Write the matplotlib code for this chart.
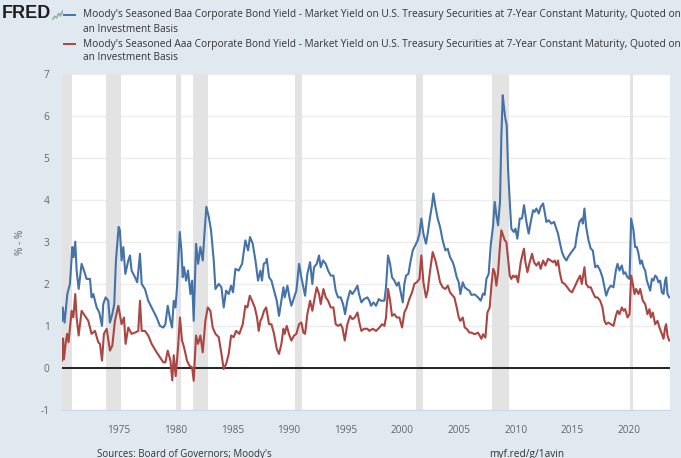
import matplotlib
matplotlib.use("Agg")
import matplotlib.pyplot as plt
from matplotlib.lines import Line2D

plt.rcParams['font.family'] = ['Open Sans', 'DejaVu Sans']

# ---------------- data ----------------
baa_years = [
    1969.97, 1970.03, 1970.2, 1970.44, 1970.67, 1970.88, 1970.99, 1971.14, 1971.26, 1971.44,
    1971.7, 1971.91, 1972.14, 1972.44, 1972.58, 1972.73, 1973.03, 1973.26, 1973.5, 1973.61,
    1973.82, 1974.05, 1974.2, 1974.41, 1974.58, 1974.73, 1974.97, 1975.08, 1975.23, 1975.38,
    1975.56, 1975.82, 1975.97, 1976.11, 1976.41, 1976.61, 1976.85, 1977.0, 1977.29, 1977.58,
    1977.88, 1978.32, 1978.61, 1978.91,
    1979.09, 1979.3, 1979.54, 1979.68, 1979.83, 1979.98, 1980.12, 1980.36, 1980.51, 1980.62,
    1980.74, 1980.92, 1981.09, 1981.3, 1981.45, 1981.59, 1981.8, 1981.98, 1982.18, 1982.39,
    1982.54, 1982.71, 1982.92, 1983.12, 1983.36, 1983.51, 1983.8, 1984.04, 1984.24, 1984.45,
    1984.68, 1984.89, 1985.06, 1985.27, 1985.56, 1985.86, 1986.15, 1986.39, 1986.56, 1986.8,
    1987.04, 1987.27, 1987.48, 1987.62, 1987.77, 1987.98,
    1988.04, 1988.24, 1988.45, 1988.68, 1988.92, 1989.12, 1989.33, 1989.51, 1989.62, 1989.86,
    1990.04, 1990.21, 1990.45, 1990.65, 1990.89, 1991.09, 1991.27, 1991.42, 1991.62, 1991.86,
    1992.06, 1992.21, 1992.45, 1992.65, 1992.8, 1993.01, 1993.24, 1993.45, 1993.68, 1993.92,
    1994.12, 1994.33, 1994.56, 1994.77, 1994.95, 1995.15, 1995.39, 1995.59, 1995.8, 1996.04,
    1996.18, 1996.39, 1996.62, 1996.92,
    1997.09, 1997.24, 1997.45, 1997.68, 1997.92, 1998.12, 1998.42, 1998.56, 1998.74, 1998.92,
    1999.09, 1999.3, 1999.51, 1999.68, 1999.89, 2000.04, 2000.18, 2000.33, 2000.54, 2000.71,
    2000.92, 2001.06, 2001.21, 2001.36, 2001.51, 2001.68, 2001.86, 2002.09, 2002.24, 2002.45,
    2002.62, 2002.74, 2002.92, 2003.12, 2003.33, 2003.56, 2003.8, 2004.01, 2004.21, 2004.45,
    2004.59, 2004.8, 2004.98, 2005.12, 2005.33, 2005.51, 2005.68, 2005.92,
    2006.09, 2006.39, 2006.68, 2006.92, 2007.12, 2007.27, 2007.42, 2007.62, 2007.8, 2008.01,
    2008.15, 2008.3, 2008.45, 2008.62, 2008.74, 2008.86, 2008.98, 2009.09, 2009.21, 2009.33,
    2009.48, 2009.62, 2009.83, 2009.98, 2010.15, 2010.36, 2010.56, 2010.74, 2010.95, 2011.15,
    2011.33, 2011.54, 2011.68, 2011.83, 2012.04, 2012.21, 2012.42, 2012.56, 2012.71, 2012.92,
    2013.15, 2013.39, 2013.59, 2013.74, 2013.89, 2014.09, 2014.27, 2014.48, 2014.62, 2014.92,
    2015.25, 2015.4, 2015.63, 2015.84, 2015.93, 2016.07, 2016.22, 2016.43, 2016.63, 2016.81,
    2017.02, 2017.22, 2017.46, 2017.66, 2017.81, 2017.99, 2018.19, 2018.4, 2018.63, 2018.84,
    2018.99, 2019.16, 2019.37, 2019.52, 2019.66, 2019.87, 2020.05, 2020.19, 2020.4, 2020.54,
    2020.69, 2020.84, 2020.99, 2021.13, 2021.28, 2021.43, 2021.58, 2021.72, 2021.87, 2022.02,
    2022.16, 2022.31, 2022.46, 2022.6, 2022.75, 2022.9, 2023.05, 2023.19, 2023.28, 2023.4,
    2023.55,
]
baa_values = [
    1.12, 1.44, 1.08, 1.76, 2.0, 2.88, 2.64, 3.01, 2.32, 1.88,
    2.48, 2.32, 2.12, 2.12, 1.68, 1.76, 1.44, 1.32, 1.0, 1.52,
    1.68, 1.60, 1.08, 1.28, 1.52, 2.56, 3.36, 3.28, 2.56, 2.88,
    2.24, 2.56, 2.68, 2.32, 2.16, 2.04, 2.72, 2.0, 1.88, 1.60,
    1.44, 1.2, 1.0, 0.96,
    1.04, 1.48, 1.12, 0.96, 1.6, 1.44, 1.92, 3.24, 2.8, 2.16,
    2.4, 2.08, 2.32, 1.76, 2.08, 1.12, 2.96, 2.48, 2.88, 2.56,
    3.2, 3.84, 3.6, 3.28, 2.56, 1.88, 2.0, 1.92, 1.44, 1.84,
    1.76, 1.96, 1.8, 2.36, 2.32, 2.48, 3.04, 2.8, 3.12, 2.96,
    2.56, 2.08, 2.32, 2.08, 2.48, 2.52,
    2.6, 2.16, 2.08, 1.84, 1.6, 1.24, 1.6, 1.92, 1.68, 1.96,
    1.68, 1.48, 1.68, 1.84, 2.48, 2.16, 1.92, 1.72, 2.24, 2.52,
    2.0, 2.4, 2.48, 2.68, 2.4, 2.56, 2.48, 2.32, 2.2, 2.2,
    1.84, 1.68, 1.68, 1.52, 1.28, 1.6, 1.84, 1.76, 1.84, 1.96,
    1.76, 1.56, 1.64, 1.68,
    1.6, 1.48, 1.56, 1.48, 1.64, 1.6, 1.6, 1.92, 2.68, 2.48,
    2.16, 2.08, 1.96, 2.04, 1.76, 1.56, 2.0, 2.2, 2.24, 2.52,
    2.8, 2.88, 2.96, 3.04, 3.2, 3.56, 3.2, 2.96, 3.2, 3.6,
    3.88, 4.16, 3.84, 3.56, 3.36, 3.04, 2.8, 2.84, 2.64, 2.52,
    2.4, 2.16, 2.04, 1.76, 2.04, 1.92, 1.88, 1.84,
    1.74, 1.75, 1.68, 1.6, 1.77, 1.74, 2.12, 2.24, 2.92, 3.4,
    3.96, 3.64, 3.4, 3.96, 5.55, 6.5, 6.19, 5.95, 5.79, 4.75,
    3.96, 3.32, 3.24, 3.32, 3.08, 3.56, 3.56, 3.88, 3.48, 3.2,
    3.48, 3.76, 3.72, 3.8, 3.68, 3.84, 3.92, 3.72, 3.48, 3.52,
    3.44, 3.48, 3.32, 3.2, 3.0, 2.76, 2.64, 2.56, 2.64, 2.76,
    2.88, 3.16, 3.48, 3.56, 3.44, 3.8, 3.36, 3.04, 2.84, 2.8,
    2.4, 2.44, 2.32, 2.16, 1.96, 1.72, 1.88, 1.96, 1.92, 2.32,
    2.48, 2.32, 2.44, 2.24, 2.28, 2.16, 2.12, 3.56, 3.28, 2.88,
    2.88, 2.72, 2.48, 2.56, 2.4, 2.32, 2.08, 1.96, 1.84, 2.12,
    2.08, 2.2, 2.16, 2.04, 2.08, 1.8, 1.76, 2.08, 2.16, 1.76,
    1.68,
]

aaa_years = [
    1969.97, 1970.06, 1970.14, 1970.3, 1970.42, 1970.55, 1970.82, 1970.97, 1971.14, 1971.26,
    1971.44, 1971.7, 1971.99, 1972.29, 1972.58, 1972.88, 1973.17, 1973.32, 1973.5, 1973.67,
    1973.91, 1974.2, 1974.41, 1974.64, 1974.94, 1975.23, 1975.44, 1975.58, 1975.82, 1976.11,
    1976.41, 1976.7, 1976.85, 1977.0, 1977.29, 1977.58, 1977.88, 1978.32, 1978.61, 1978.91,
    1979.09, 1979.3, 1979.54, 1979.7, 1979.83, 1980.0, 1980.21, 1980.38, 1980.56, 1980.74,
    1981.0, 1981.21, 1981.45, 1981.59, 1981.8, 1981.98, 1982.18, 1982.39, 1982.62, 1982.83,
    1983.06, 1983.27, 1983.51, 1983.8, 1984.04, 1984.24, 1984.45, 1984.68, 1984.89, 1985.12,
    1985.33, 1985.62, 1985.92, 1986.15, 1986.33, 1986.54, 1986.74, 1986.98, 1987.18, 1987.33,
    1987.48, 1987.62, 1987.8, 1987.98,
    1988.04, 1988.24, 1988.45, 1988.68, 1988.92, 1989.12, 1989.33, 1989.51, 1989.62, 1989.8,
    1990.04, 1990.21, 1990.45, 1990.65, 1990.89, 1991.09, 1991.27, 1991.42, 1991.62, 1991.86,
    1992.06, 1992.27, 1992.45, 1992.65, 1992.8, 1993.04, 1993.24, 1993.45, 1993.68, 1993.92,
    1994.12, 1994.33, 1994.56, 1994.71, 1994.92, 1995.15, 1995.39, 1995.59, 1995.8, 1996.04,
    1996.24, 1996.39, 1996.62, 1996.92,
    1997.09, 1997.39, 1997.68, 1997.98, 1998.21, 1998.42, 1998.56, 1998.74, 1998.92, 1999.09,
    1999.3, 1999.51, 1999.74, 1999.98, 2000.18, 2000.39, 2000.62, 2000.86, 2001.06, 2001.27,
    2001.51, 2001.68, 2001.86, 2002.09, 2002.24, 2002.45, 2002.68, 2002.92, 2003.12, 2003.33,
    2003.56, 2003.8, 2004.01, 2004.21, 2004.45, 2004.59, 2004.8, 2004.98, 2005.12, 2005.33,
    2005.51, 2005.68, 2005.92,
    2006.09, 2006.39, 2006.68, 2006.98, 2007.12, 2007.33, 2007.51, 2007.71, 2007.86, 2008.01,
    2008.15, 2008.3, 2008.45, 2008.62, 2008.74, 2008.89, 2009.04, 2009.18, 2009.33, 2009.48,
    2009.62, 2009.77, 2009.92, 2010.06, 2010.21, 2010.45, 2010.65, 2010.74, 2010.86, 2011.04,
    2011.24, 2011.45, 2011.62, 2011.83, 2012.04, 2012.21, 2012.42, 2012.62, 2012.86, 2013.09,
    2013.3, 2013.45, 2013.59, 2013.74, 2013.89, 2014.09, 2014.33, 2014.56, 2014.77, 2014.98,
    2015.25, 2015.46, 2015.69, 2015.84, 2015.93, 2016.07, 2016.22, 2016.43, 2016.63, 2016.81,
    2017.02, 2017.22, 2017.46, 2017.66, 2017.84, 2017.99, 2018.19, 2018.4, 2018.63, 2018.84,
    2018.99, 2019.16, 2019.37, 2019.52, 2019.66, 2019.87, 2020.05, 2020.19, 2020.34, 2020.49,
    2020.63, 2020.84, 2020.99, 2021.22, 2021.43, 2021.63, 2021.81, 2021.93, 2022.1, 2022.31,
    2022.52, 2022.69, 2022.9, 2023.05, 2023.19, 2023.28, 2023.4, 2023.55,
]
aaa_values = [
    0.17, 0.7, 0.2, 0.6, 0.81, 0.61, 1.36, 1.2, 1.76, 1.2,
    0.77, 1.36, 1.24, 1.12, 0.81, 0.88, 0.61, 0.57, 0.17, 0.81,
    0.93, 0.41, 0.53, 1.12, 1.48, 1.04, 1.2, 0.57, 0.96, 0.81,
    0.84, 0.88, 1.6, 0.88, 0.88, 0.77, 0.57, 0.37, 0.25, 0.13,
    0.13, 0.41, 0.17, -0.3, 0.3, -0.2, 0.49, 1.2, 0.65, 0.49,
    0.17, 0.05, 0.01, -0.31, 0.77, 0.57, 0.77, 0.37, 1.12, 1.44,
    1.36, 0.96, 0.81, 0.73, 0.33, -0.03, 0.09, 0.33, 0.77, 0.73,
    0.88, 0.81, 1.04, 1.48, 1.44, 1.72, 1.60, 1.44, 1.2, 0.88,
    1.12, 1.2, 1.36, 1.44,
    1.36, 1.04, 1.04, 0.81, 0.45, 0.33, 0.57, 0.93, 0.81, 1.0,
    0.77, 0.65, 0.77, 0.81, 1.04, 1.08, 0.84, 0.81, 1.28, 1.6,
    1.36, 1.68, 1.92, 1.76, 1.52, 1.88, 1.68, 1.6, 1.44, 1.44,
    1.04, 1.0, 1.04, 0.96, 0.65, 1.04, 1.24, 1.16, 1.2, 1.32,
    1.04, 0.88, 0.93, 0.93,
    0.88, 0.93, 0.88, 0.96, 1.04, 1.0, 1.2, 1.88, 1.6, 1.24,
    1.28, 1.2, 1.2, 0.96, 1.32, 1.44, 1.64, 1.8, 2.0, 2.04,
    2.12, 2.68, 2.04, 1.68, 1.84, 2.32, 2.76, 2.56, 2.32, 2.04,
    1.92, 1.88, 1.96, 1.8, 1.72, 1.68, 1.44, 1.2, 1.12, 1.2,
    0.96, 0.93, 0.84,
    0.84, 0.8, 0.84, 0.69, 0.8, 0.72, 1.32, 1.44, 1.96, 2.36,
    2.28, 1.96, 2.28, 2.92, 3.28, 3.16, 3.04, 3.0, 2.6, 2.2,
    2.12, 2.2, 2.16, 2.2, 2.04, 2.52, 2.76, 2.84, 2.52, 2.28,
    2.52, 2.72, 2.52, 2.44, 2.52, 2.36, 2.56, 2.44, 2.6, 2.56,
    2.52, 2.56, 2.44, 2.56, 2.28, 2.04, 2.0, 1.92, 1.84, 1.8,
    1.96, 2.08, 2.2, 2.0, 2.16, 2.4, 2.0, 1.92, 1.92, 1.8,
    1.68, 1.68, 1.6, 1.44, 1.12, 1.04, 1.08, 1.04, 1.0, 1.24,
    1.36, 1.28, 1.44, 1.36, 1.4, 1.2, 1.28, 2.2, 2.0, 1.76,
    1.88, 1.76, 1.88, 1.6, 1.52, 1.28, 1.4, 1.2, 1.32, 1.04,
    1.12, 0.96, 0.81, 0.69, 0.96, 1.04, 0.77, 0.65,
]

recession_starts = [1969.92, 1973.83, 1980.0, 1981.5, 1990.5, 2001.17, 2007.92, 2020.08]
recession_ends = [1970.83, 1975.17, 1980.5, 1982.83, 1991.17, 2001.83, 2009.42, 2020.33]

x_ticks = [1975, 1980, 1985, 1990, 1995, 2000, 2005, 2010, 2015, 2020]
y_ticks = [-1, 0, 1, 2, 3, 4, 5, 6, 7]

baa_label = ["Moody's Seasoned Baa Corporate Bond Yield - Market Yield on U.S. Treasury Securities at 7-Year Constant Maturity, Quoted on",
             "an Investment Basis"]
aaa_label = ["Moody's Seasoned Aaa Corporate Bond Yield - Market Yield on U.S. Treasury Securities at 7-Year Constant Maturity, Quoted on",
             "an Investment Basis"]
y_label = "% - %"
source_text = "Sources: Board of Governors; Moody's"
url_text = "myf.red/g/1avin"
logo_trend = [0.15, 0.45, 0.3, 0.7, 0.55, 0.9]

# ---------------- styling ----------------
BG = '#e1e9f0'
BLUE = '#4572a7'
RED = '#aa4643'
W, H = 681, 458

fig = plt.figure(figsize=(W / 100, H / 100), dpi=100, facecolor=BG)
ax = fig.add_axes([62 / W, 1 - 409.7 / H, 608 / W, 335.3 / H])
ax.set_facecolor('white')

for s, e in zip(recession_starts, recession_ends):
    ax.axvspan(s, e, color='#e3e3e3', lw=0, zorder=0.6)

ax.set_xlim(1969.97, 2023.62)
ax.set_ylim(-1, 7)
ax.set_yticks(y_ticks)
ax.set_yticklabels([str(v) for v in y_ticks])
ax.set_xticks(x_ticks)
ax.set_xticklabels([str(v) for v in x_ticks])
ax.grid(axis='y', color='#ececec', lw=1.0, zorder=0.5)
ax.set_axisbelow(True)
ax.axhline(0, color='#222222', lw=1.4, zorder=2)

ax.plot(baa_years, baa_values, color=BLUE, lw=1.5, zorder=3, solid_joinstyle='round')
ax.plot(aaa_years, aaa_values, color=RED, lw=1.5, zorder=3, solid_joinstyle='round')

for sp in ['top', 'right', 'left']:
    ax.spines[sp].set_visible(False)
ax.spines['bottom'].set_color('#ccd6eb')
ax.spines['bottom'].set_linewidth(0.8)
ax.tick_params(axis='both', length=0, labelsize=7.3, labelcolor='#666666')
ax.tick_params(axis='y', pad=9)
ax.tick_params(axis='x', pad=11)
ax.set_ylabel(y_label, fontsize=7.3, color='#666666')
ax.yaxis.set_label_coords(-36 / 608, 0.5)

# header: logo + legend
fig.text(2 / W, 1 - 14 / H, 'FRED', fontsize=13, fontweight='bold',
         family=['Liberation Sans', 'DejaVu Sans'], color='#1f1f1f', va='center', ha='left')
lax = fig.add_axes([52 / W, 1 - 21 / H, 11 / W, 11 / H])
lax.plot(range(len(logo_trend)), logo_trend, color='#7fa7c9', lw=0.9)
lax.plot(range(len(logo_trend)), [v * 0.8 for v in logo_trend], color='#9cc47a', lw=0.9)
lax.set_xlim(-0.3, len(logo_trend) - 0.7)
lax.set_ylim(0, 1)
lax.axis('off')

legend_rows = [(BLUE, baa_label, 15), (RED, aaa_label, 44)]
for color, lines, ypix in legend_rows:
    fig.add_artist(Line2D([64 / W, 75 / W], [1 - ypix / H] * 2, transform=fig.transFigure,
                          color=color, lw=1.4))
    fig.text(83 / W, 1 - ypix / H, lines[0], fontsize=7.3, color='#333333', va='center', ha='left')
    fig.text(83 / W, 1 - (ypix + 14) / H, lines[1], fontsize=7.3, color='#333333', va='center', ha='left')

fig.text(97 / W, 1 - 454 / H, source_text, fontsize=7.0, color='#333333', va='center', ha='left')
fig.text(489 / W, 1 - 454 / H, url_text, fontsize=7.3, color='#333333', va='center', ha='left')

fig.savefig('out.png', dpi=100, facecolor=BG)
